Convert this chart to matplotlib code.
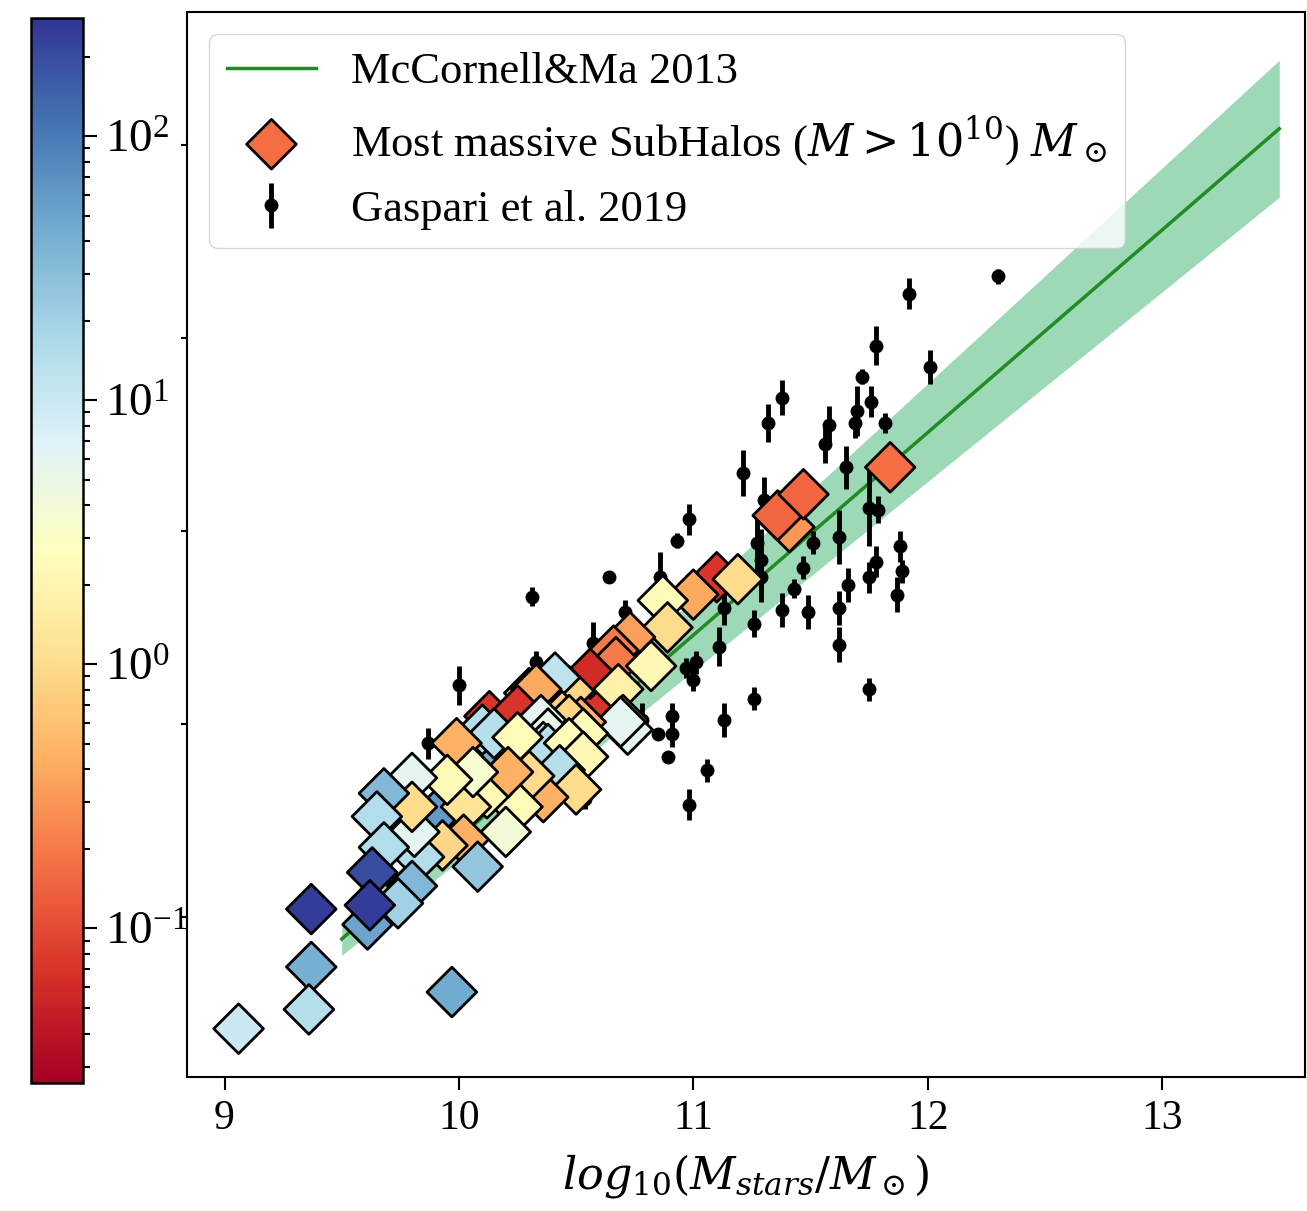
import numpy as np
import matplotlib.pyplot as plt
from matplotlib.colors import LogNorm

plt.rcParams['font.family'] = ['Liberation Serif', 'DejaVu Serif']
plt.rcParams['mathtext.fontset'] = 'dejavuserif'

# McConnell & Ma 2013 relation (line + uncertainty band), read at the ends
mm_x = [9.5, 13.5]
mm_y = [6.885, 11.085]
mm_hi = [6.97, 11.44]
mm_lo = [6.80, 10.73]

# Gaspari et al. 2019 points: log M_stars, log M_BH, error
gas_x = [12.30, 11.92, 11.78, 12.01, 11.72, 11.38, 11.32, 11.76, 11.70, 11.69,
         11.82, 11.58, 11.56, 11.21, 11.65, 11.30, 10.98, 10.93, 10.86, 11.27,
         11.29, 11.29, 11.51, 11.62, 11.75, 11.79, 11.88, 11.89, 11.47, 11.78,
         11.75, 11.43, 11.38, 11.49, 11.62, 11.62, 11.66, 11.87, 11.75, 11.26,
         11.26, 11.13, 11.11, 11.01, 10.97, 11.00, 11.13, 10.91, 10.91, 10.85,
         10.89, 11.06, 10.98, 10.78, 10.64, 10.31, 10.71, 10.57, 10.33, 10.00,
         9.87, 10.54]
gas_y = [10.32, 10.23, 9.96, 9.85, 9.80, 9.69, 9.56, 9.67, 9.62, 9.56,
         9.56, 9.55, 9.45, 9.30, 9.33, 9.16, 9.06, 8.95, 8.76, 8.94,
         8.85, 8.76, 8.94, 8.97, 9.12, 9.11, 8.92, 8.79, 8.81, 8.84,
         8.76, 8.70, 8.59, 8.58, 8.60, 8.41, 8.72, 8.67, 8.18, 8.13,
         8.52, 8.60, 8.40, 8.32, 8.29, 8.23, 8.02, 8.04, 7.95, 7.95,
         7.83, 7.76, 7.58, 8.02, 8.76, 8.66, 8.58, 8.42, 8.32, 8.20,
         7.90, 7.61]
gas_err = [0.04, 0.08, 0.10, 0.09, 0.04, 0.09, 0.10, 0.08, 0.13, 0.08,
           0.05, 0.10, 0.10, 0.12, 0.11, 0.12, 0.08, 0.04, 0.13, 0.16,
           0.16, 0.13, 0.06, 0.14, 0.20, 0.07, 0.08, 0.06, 0.06, 0.08,
           0.08, 0.05, 0.09, 0.09, 0.09, 0.09, 0.09, 0.09, 0.06, 0.06,
           0.07, 0.09, 0.10, 0.06, 0.05, 0.06, 0.09, 0.07, 0.07, 0.02,
           0.02, 0.06, 0.08, 0.09, 0.02, 0.05, 0.06, 0.11, 0.06, 0.10,
           0.08, 0.05]

# most massive subhalos: log M_stars, log M_BH, colour value
sub_x = [11.84, 11.41, 11.36, 11.47, 10.56, 10.13, 10.56, 9.91, 9.61, 10.19,
         11.10, 11.19, 11.00, 10.87, 10.89, 10.73, 10.66, 10.67, 10.82, 10.56,
         10.68, 10.47, 10.41, 10.30, 10.33, 10.25, 10.70, 10.72, 10.69, 10.52,
         10.44, 10.47, 10.53, 10.35, 10.38, 10.36, 10.38, 10.10, 10.15, 9.99,
         10.25, 10.47, 10.53, 10.43, 10.50, 10.36, 10.30, 10.25, 10.12, 10.21,
         10.20, 10.03, 10.06, 9.95, 10.02, 9.93, 10.08, 9.80, 9.83, 9.81,
         9.80, 9.68, 9.65, 9.68, 9.80, 9.74, 9.63, 9.62, 9.37, 9.37,
         9.36, 9.06, 9.97]
sub_y = [9.33, 9.02, 9.08, 9.19, 8.15, 8.04, 8.09, 7.54, 6.96, 7.85,
         8.76, 8.75, 8.67, 8.64, 8.50, 8.45, 8.38, 8.32, 8.30, 8.26,
         8.18, 8.17, 8.24, 8.16, 8.18, 8.07, 8.02, 7.97, 8.01, 8.01,
         8.04, 8.02, 7.95, 8.02, 7.95, 7.88, 7.87, 7.97, 7.95, 7.90,
         7.93, 7.90, 7.83, 7.76, 7.66, 7.62, 7.73, 7.57, 7.64, 7.75,
         7.44, 7.57, 7.75, 7.71, 7.40, 7.37, 7.26, 7.72, 7.31, 7.44,
         7.57, 7.64, 7.52, 7.36, 7.16, 7.07, 7.23, 7.06, 7.04, 6.74,
         6.52, 6.42, 6.61]
sub_c = [0.17, 0.3, 0.15, 0.15, 0.035, 0.07, 0.07, 60, 50, 40,
         0.07, 1.0, 0.4, 2.5, 1.0, 0.35, 0.2, 0.2, 2.2, 0.06,
         1.8, 0.9, 12, 0.4, 0.4, 0.07, 1.2, 6, 6, 0.45,
         0.8, 0.9, 2.5, 6, 5, 13, 14, 14, 14, 0.45,
         2.5, 2.5, 2.2, 14, 1.0, 0.45, 1.0, 2.5, 2.3, 0.45,
         4, 1.2, 3.5, 2.3, 0.45, 0.9, 25, 6, 15, 6,
         1.0, 35, 15, 15, 35, 20, 200, 250, 250, 40,
         14, 10, 45]

fig = plt.figure(figsize=(13.07, 12.11), dpi=100)
ax = fig.add_axes([0.1431, 0.1107, 0.8554, 0.8794])
cax = fig.add_axes([0.0237, 0.1057, 0.0398, 0.8794])

ax.fill_between(mm_x, mm_lo, mm_hi, color='mediumseagreen', alpha=0.5, lw=0, zorder=1)
ax.plot(mm_x, mm_y, color='forestgreen', lw=2.5, zorder=1.5, label='McCornell&Ma 2013')

eb = ax.errorbar(gas_x, gas_y, yerr=gas_err, fmt='o', color='k', ms=9,
                 elinewidth=3.5, capsize=0, zorder=2, label='Gaspari et al. 2019')

sc = ax.scatter(sub_x, sub_y, c=sub_c, cmap='RdYlBu', norm=LogNorm(0.026, 280),
                marker='D', s=640, edgecolors='k', linewidths=2.0, zorder=3,
                label=r'Most massive SubHalos ($M > 10^{10}$) $M_\odot$')

ax.set_xlim(8.84, 13.61)
ax.set_ylim(6.17, 11.69)
ax.set_xticks([9, 10, 11, 12, 13])
ax.set_yticks([7, 8, 9, 10, 11])
ax.set_yticklabels([])
ax.tick_params(axis='x', labelsize=30, length=9, width=1.5, pad=7)
ax.tick_params(axis='y', length=4, width=1.5)
for s in ax.spines.values():
    s.set_linewidth(1.5)
ax.set_xlabel(r'$log_{10}(M_{stars}/M_\odot)$', fontsize=32, labelpad=10)

cb = fig.colorbar(sc, cax=cax)
cb.ax.tick_params(which='major', labelsize=34, length=10, width=1.5, pad=6)
cb.ax.tick_params(which='minor', length=5, width=1.5)
cb.outline.set_linewidth(1.8)

handles, labels = ax.get_legend_handles_labels()
order = [labels.index('McCornell&Ma 2013'),
         labels.index(r'Most massive SubHalos ($M > 10^{10}$) $M_\odot$'),
         labels.index('Gaspari et al. 2019')]
leg = ax.legend([handles[i] for i in order], [labels[i] for i in order],
                loc='upper left', fontsize=32, borderaxespad=0.5)
leg.legend_handles[1].set_facecolor(plt.get_cmap('RdYlBu')(LogNorm(0.026, 280)(0.17)))

fig.savefig('out.png', dpi=100)
